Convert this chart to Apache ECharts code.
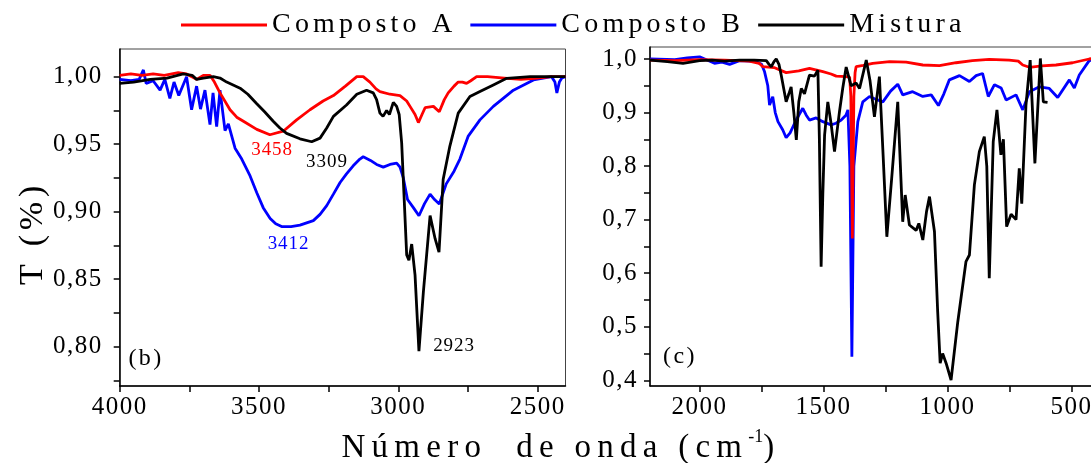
<!DOCTYPE html>
<html><head><meta charset="utf-8">
<script src="https://cdn.jsdelivr.net/npm/echarts@6/dist/echarts.min.js"></script>
<style>html,body{margin:0;padding:0;background:#fff}#c{width:1091px;height:463px}</style>
</head><body><div id="c"></div>
<script>
// ---- Panel (b): 4000-2400 cm-1 ----
var bWaveA = [4000, 3960, 3920, 3880, 3840, 3790, 3760, 3724, 3700, 3676, 3660, 3640, 3604, 3580, 3556, 3508, 3461, 3413, 3365, 3317, 3270, 3233, 3190, 3149, 3126, 3102, 3080, 3066, 3030, 2994, 2970, 2958, 2940, 2928, 2915, 2904, 2874, 2853, 2835, 2821, 2800, 2785, 2770, 2755, 2740, 2719, 2680, 2620, 2560, 2500, 2450, 2400];
var bTransA = [1.001, 1.002, 1.001, 1.002, 1.001, 1.003, 1.002, 0.998, 1.001, 1.001, 0.996, 0.988, 0.9755, 0.970, 0.967, 0.961, 0.957, 0.9596, 0.968, 0.9755, 0.982, 0.986, 0.993, 1.000, 1.000, 0.996, 0.991, 0.989, 0.987, 0.986, 0.982, 0.978, 0.972, 0.966, 0.972, 0.977, 0.978, 0.974, 0.983, 0.988, 0.993, 0.996, 0.996, 0.995, 0.997, 1.000, 1.000, 0.999, 0.998, 0.999, 1.000, 1.000];
var bWaveB = [4000, 3960, 3930, 3915, 3905, 3880, 3855, 3838, 3820, 3805, 3788, 3760, 3742, 3724, 3710, 3694, 3676, 3665, 3652, 3640, 3622, 3610, 3586, 3562, 3532, 3508, 3485, 3460, 3440, 3419, 3385, 3353, 3305, 3281, 3257, 3233, 3209, 3186, 3162, 3138, 3126, 3100, 3078, 3054, 3030, 3006, 2994, 2982, 2967, 2946, 2926, 2906, 2886, 2870, 2853, 2828, 2800, 2779, 2749, 2707, 2659, 2587, 2515, 2450, 2438, 2431, 2422, 2413, 2400];
var bTransB = [0.998, 0.997, 0.998, 1.005, 0.995, 0.997, 0.990, 0.998, 0.984, 0.996, 0.986, 1.000, 0.9755, 0.993, 0.976, 0.990, 0.9645, 0.988, 0.963, 0.990, 0.960, 0.965, 0.947, 0.939, 0.9265, 0.914, 0.903, 0.895, 0.891, 0.889, 0.889, 0.890, 0.8934, 0.898, 0.9045, 0.913, 0.9216, 0.928, 0.934, 0.939, 0.9407, 0.938, 0.935, 0.933, 0.935, 0.936, 0.933, 0.925, 0.909, 0.903, 0.897, 0.906, 0.913, 0.909, 0.9057, 0.9206, 0.930, 0.939, 0.956, 0.968, 0.978, 0.990, 0.9976, 1.000, 0.996, 0.988, 0.996, 0.999, 1.000];
var bWaveM = [4000, 3950, 3890, 3830, 3772, 3740, 3724, 3700, 3664, 3640, 3616, 3568, 3540, 3508, 3480, 3449, 3425, 3401, 3353, 3311, 3281, 3257, 3233, 3186, 3149, 3114, 3090, 3078, 3066, 3055, 3042, 3032, 3018, 3006, 2997, 2988, 2980, 2970, 2962, 2952, 2940, 2926, 2910, 2886, 2868, 2854, 2839, 2815, 2785, 2743, 2707, 2659, 2611, 2527, 2460, 2400];
var bTransM = [0.995, 0.996, 0.998, 0.999, 1.002, 1.001, 0.998, 0.999, 1.000, 0.999, 0.996, 0.9915, 0.987, 0.980, 0.974, 0.967, 0.962, 0.958, 0.954, 0.9518, 0.9545, 0.962, 0.9706, 0.979, 0.987, 0.990, 0.988, 0.983, 0.973, 0.9706, 0.975, 0.972, 0.981, 0.978, 0.972, 0.951, 0.914, 0.868, 0.864, 0.876, 0.853, 0.7967, 0.8408, 0.8971, 0.880, 0.870, 0.924, 0.9486, 0.973, 0.9853, 0.989, 0.9939, 0.9988, 1.000, 1.000, 1.000];

// ---- Panel (c): 2200-400 cm-1 ----
var cWaveA = [2200, 2100, 2000, 1900, 1800, 1760, 1745, 1700, 1651, 1600, 1557, 1503, 1470, 1449, 1409, 1395, 1390, 1384, 1378, 1373, 1369, 1340, 1302, 1234, 1167, 1100, 1033, 966, 900, 832, 752, 715, 697, 670, 620, 563, 496, 429, 400];
var cTransA = [0.998, 0.997, 0.999, 0.998, 0.996, 0.992, 0.9856, 0.984, 0.9745, 0.978, 0.9826, 0.9764, 0.972, 0.968, 0.967, 0.966, 0.93, 0.665, 0.93, 0.975, 0.9856, 0.988, 0.992, 0.995, 0.994, 0.9888, 0.9875, 0.993, 0.997, 0.9994, 0.998, 0.996, 0.9888, 0.9845, 0.987, 0.9888, 0.993, 1.000, 1.002];
var cWaveB = [2200, 2100, 2050, 2000, 1970, 1940, 1910, 1879, 1839, 1800, 1772, 1750, 1738, 1725, 1718, 1705, 1695, 1684, 1665, 1651, 1635, 1617, 1600, 1584, 1570, 1557, 1530, 1503, 1470, 1450, 1429, 1410, 1402, 1394, 1386, 1378, 1362, 1342, 1315, 1290, 1261, 1230, 1201, 1181, 1141, 1100, 1066, 1037, 1015, 993, 952, 912, 885, 859, 836, 811, 784, 764, 724, 697, 670, 630, 590, 556, 509, 489, 469, 429, 400];
var cTransB = [1.000, 0.999, 1.002, 1.004, 0.998, 0.992, 0.994, 0.990, 0.997, 0.996, 0.995, 0.990, 0.976, 0.950, 0.914, 0.9296, 0.900, 0.883, 0.868, 0.853, 0.862, 0.880, 0.895, 0.908, 0.895, 0.886, 0.890, 0.883, 0.877, 0.880, 0.886, 0.895, 0.905, 0.80, 0.444, 0.80, 0.883, 0.920, 0.930, 0.925, 0.920, 0.940, 0.953, 0.933, 0.939, 0.930, 0.933, 0.913, 0.935, 0.961, 0.969, 0.958, 0.969, 0.973, 0.930, 0.952, 0.946, 0.9234, 0.933, 0.905, 0.939, 0.948, 0.945, 0.928, 0.961, 0.946, 0.970, 0.997, 1.000];
var cWaveM = [2200, 2130, 2067, 2000, 1950, 1900, 1839, 1780, 1731, 1720, 1711, 1700, 1691, 1680, 1671, 1651, 1640, 1631, 1620, 1610, 1600, 1590, 1577, 1557, 1537, 1523, 1517, 1510, 1503, 1496, 1483, 1470, 1456, 1436, 1423, 1409, 1389, 1369, 1355, 1328, 1313, 1295, 1275, 1260, 1245, 1225, 1201, 1181, 1171, 1154, 1127, 1116, 1100, 1085, 1073, 1053, 1040, 1030, 1020, 1006, 986, 959, 926, 912, 892, 872, 852, 842, 832, 816, 801, 785, 775, 762, 744, 724, 711, 701, 684, 667, 648, 626, 614, 597];
var cTransM = [0.998, 0.995, 0.992, 0.997, 0.998, 0.996, 0.998, 0.998, 0.997, 0.990, 0.9856, 0.995, 1.000, 0.990, 0.970, 0.920, 0.935, 0.948, 0.900, 0.849, 0.920, 0.945, 0.935, 0.970, 0.968, 0.979, 0.85, 0.612, 0.75, 0.858, 0.920, 0.880, 0.827, 0.9016, 0.945, 0.985, 0.950, 0.955, 0.945, 0.998, 0.960, 0.892, 0.967, 0.82, 0.668, 0.78, 0.92, 0.696, 0.746, 0.690, 0.680, 0.693, 0.662, 0.715, 0.743, 0.678, 0.528, 0.432, 0.45, 0.432, 0.4006, 0.509, 0.6215, 0.634, 0.765, 0.827, 0.855, 0.80, 0.5905, 0.8456, 0.905, 0.821, 0.85, 0.687, 0.710, 0.700, 0.796, 0.73, 0.914, 0.998, 0.805, 1.001, 0.92, 0.919];

// ---- tick values and labels ----
var bXTicks = [4000, 3750, 3500, 3250, 3000, 2750, 2500];
var bXLabels = [4000, 3500, 3000, 2500];
var bYTicks = [0.775, 0.80, 0.825, 0.85, 0.875, 0.90, 0.925, 0.95, 0.975, 1.00];
var bYLabels = [0.80, 0.85, 0.90, 0.95, 1.00];
var cXTicks = [2000, 1750, 1500, 1250, 1000, 750, 500];
var cXLabels = [2000, 1500, 1000, 500];
var cYTicks = [0.40, 0.45, 0.50, 0.55, 0.60, 0.65, 0.70, 0.75, 0.80, 0.85, 0.90, 0.95, 1.00];
var cYLabels = [0.4, 0.5, 0.6, 0.7, 0.8, 0.9, 1.0];

var seriesNames = ['Composto A', 'Composto B', 'Mistura'];
var peakLabels = ['3458', '3309', '3412', '2923'];
var panelTags = ['(b)', '(c)'];
var xTitle = 'Número  de onda (cm';
var xTitleSup = '-1';
var yTitle = 'T (%)';

// letter spacing emulation for the stretched serif text of the original
(function(){
  try {
    var P = CanvasRenderingContext2D.prototype;
    var d = Object.getOwnPropertyDescriptor(P, 'font');
    if (!d || !('letterSpacing' in P)) return;
    var SP = {33: 0.19, 34: 0.14, 28: 0.15, 25: 0.06, 24: 0.1, 19: 0.05};
    Object.defineProperty(P, 'font', {
      configurable: true,
      get: function(){ return d.get.call(this); },
      set: function(v){
        d.set.call(this, v);
        var m = /(\d+(?:\.\d+)?)px/.exec(v);
        var s = 0;
        if (m) { var f = parseFloat(m[1]); s = (SP[Math.round(f)] || 0) * f; }
        try { this.letterSpacing = s.toFixed(2) + 'px'; } catch (e) {}
      }
    });
  } catch (e) {}
})();

var F = '"Liberation Serif", "Times New Roman", serif';
var RED = '#ff0000', BLUE = '#0000ff', BLACK = '#000000';

function pairs(xs, ys) { return xs.map(function (x, i) { return [x, ys[i]]; }); }
function line(name, xs, ys, idx, color, z, extra) {
  var s = {
    type: 'line', name: name, xAxisIndex: idx, yAxisIndex: idx,
    data: pairs(xs, ys), symbol: 'none', showSymbol: false, smooth: false,
    lineStyle: { color: color, width: 2.8 }, itemStyle: { color: color },
    z: z, clip: true, animation: false
  };
  if (extra) for (var k in extra) s[k] = extra[k];
  return s;
}
function note(text, coord, color) {
  return { coord: coord, symbolSize: 0, label: { show: true, position: 'inside', formatter: text, color: color, fontSize: 19, fontFamily: F } };
}

var chart = echarts.init(document.getElementById('c'), null, { renderer: 'canvas' });

var axisLineSt = { show: true, onZero: false, lineStyle: { color: '#000', width: 1.5 } };
function tick(vals) { return { show: true, inside: false, length: 6, customValues: vals, lineStyle: { color: '#000', width: 1.5 } }; }
function lab(margin, vals, fmt) { return { fontSize: 25, fontFamily: F, color: '#000', margin: margin, customValues: vals, formatter: fmt, hideOverlap: false }; }
function fmtX(v) { return String(Math.round(v)); }
function fmtY2(v) { return Number(v).toFixed(2).replace('.', ','); }
function fmtY1(v) { return Number(v).toFixed(1).replace('.', ','); }

var option = {
  backgroundColor: '#fff',
  animation: false,
  legend: {
    data: seriesNames,
    left: 176, top: 4, itemWidth: 86, itemHeight: 3, itemGap: 14, icon: 'rect',
    textStyle: { fontSize: 28, fontFamily: F, color: '#000' }
  },
  grid: [
    { left: 119.7, top: 49, width: 445.8, height: 337, show: true, borderColor: '#444', borderWidth: 1, containLabel: false, outerBoundsMode: 'none' },
    { left: 650, top: 47, width: 446.4, height: 339, show: true, borderColor: '#444', borderWidth: 1, containLabel: false, outerBoundsMode: 'none' }
  ],
  xAxis: [
    { gridIndex: 0, type: 'value', inverse: true, min: 2400, max: 4000,
      axisLine: axisLineSt, axisTick: tick(bXTicks), splitLine: { show: false },
      axisLabel: lab(8, bXLabels, fmtX) },
    { gridIndex: 1, type: 'value', inverse: true, min: 400, max: 2200,
      axisLine: axisLineSt, axisTick: tick(cXTicks), splitLine: { show: false },
      axisLabel: lab(8, cXLabels, fmtX) }
  ],
  yAxis: [
    { gridIndex: 0, type: 'value', min: 0.7709, max: 1.0205,
      axisLine: axisLineSt, axisTick: tick(bYTicks), splitLine: { show: false },
      axisLabel: lab(17, bYLabels, fmtY2) },
    { gridIndex: 1, type: 'value', min: 0.3894, max: 1.0224,
      axisLine: axisLineSt, axisTick: tick(cYTicks), splitLine: { show: false },
      axisLabel: lab(12, cYLabels, fmtY1) }
  ],
  series: [
    line(seriesNames[0], bWaveA, bTransA, 0, RED, 3, { markPoint: { data: [note(peakLabels[0], [3453, 0.9457], RED)] } }),
    line(seriesNames[1], bWaveB, bTransB, 0, BLUE, 2, { markPoint: { data: [note(peakLabels[2], [3394, 0.876], BLUE)] } }),
    line(seriesNames[2], bWaveM, bTransM, 0, BLACK, 4, { markPoint: { data: [note(peakLabels[1], [3256, 0.937], BLACK), note(peakLabels[3], [2800, 0.8005], BLACK)] } }),
    line(seriesNames[0], cWaveA, cTransA, 1, RED, 3),
    line(seriesNames[1], cWaveB, cTransB, 1, BLUE, 2),
    line(seriesNames[2], cWaveM, cTransM, 1, BLACK, 4)
  ],
  graphic: [
    { type: 'text', x: 146, y: 359, style: { text: panelTags[0], fontSize: 24, fontFamily: F, fill: '#000', align: 'center', verticalAlign: 'middle' } },
    { type: 'text', x: 680, y: 357, style: { text: panelTags[1], fontSize: 24, fontFamily: F, fill: '#000', align: 'center', verticalAlign: 'middle' } },
    { type: 'text', x: 33, y: 233, rotation: Math.PI / 2, style: { text: yTitle, fontSize: 34, fontFamily: F, fill: '#000', align: 'center', verticalAlign: 'middle' } },
    { type: 'text', x: 561, y: 448, style: { text: xTitle + '{s|' + xTitleSup + '}' + ')', fontSize: 33, fontFamily: F, fill: '#000', align: 'center', verticalAlign: 'middle',
      rich: { s: { fontSize: 18, fontFamily: F, fill: '#000', verticalAlign: 'top', padding: [0, 0, 14, 0] } } } }
  ]
};
chart.setOption(option);
</script>
</body></html>
